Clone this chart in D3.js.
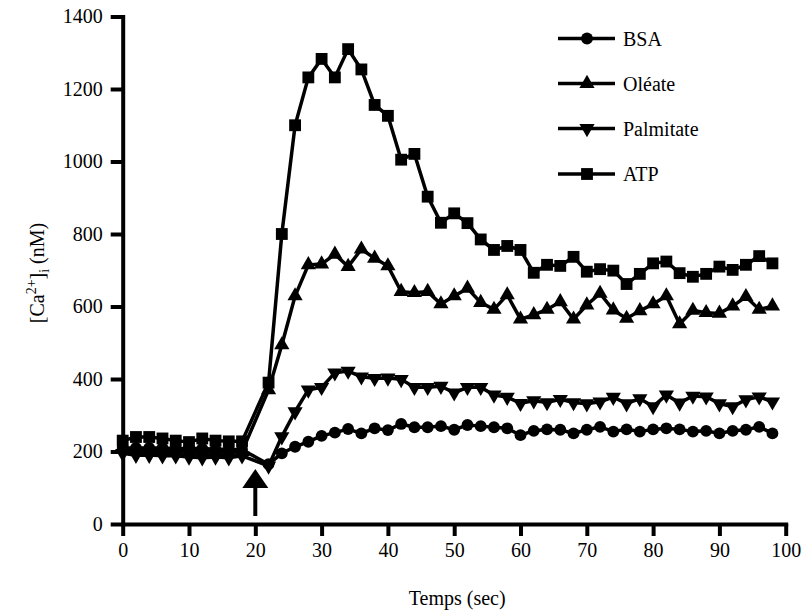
<!DOCTYPE html>
<html>
<head>
<meta charset="utf-8">
<script src="https://cdn.jsdelivr.net/npm/d3@7"></script>
<style>
  body { margin: 0; background: #fff; }
  svg text { font-family: "Liberation Serif", "Times New Roman", serif !important; fill: #000; }
</style>
</head>
<body>
<script>
// temps (sec) - pas de point a 20 s (injection)
var temps = [0, 2, 4, 6, 8, 10, 12, 14, 16, 18,
  22, 24, 26, 28, 30, 32, 34, 36, 38, 40, 42, 44, 46, 48, 50, 52, 54, 56, 58, 60,
  62, 64, 66, 68, 70, 72, 74, 76, 78, 80, 82, 84, 86, 88, 90, 92, 94, 96, 98];

var bsa = [210, 210, 210, 210, 208, 208, 208, 206, 206, 205,
  165, 195, 213, 227, 243, 252, 262, 250, 264, 259, 276, 267, 267, 270, 260, 273, 270, 267, 264, 245,
  257, 261, 260, 250, 260, 268, 255, 261, 255, 261, 264, 261, 255, 257, 250, 257, 260, 268, 250];

var oleate = [205, 205, 205, 203, 203, 200, 200, 200, 200, 200,
  370, 494, 629, 715, 717, 744, 710, 758, 733, 712, 641, 638, 641, 607, 629, 650, 611, 592, 632, 565,
  577, 592, 613, 565, 604, 636, 590, 567, 588, 607, 629, 552, 589, 583, 581, 601, 627, 592, 601];

var palmitate = [195, 190, 190, 188, 188, 185, 183, 185, 183, 188,
  160, 241, 310, 370, 377, 417, 422, 406, 402, 403, 399, 377, 377, 380, 362, 377, 377, 356, 350, 333,
  340, 335, 344, 335, 332, 337, 350, 332, 346, 324, 356, 334, 353, 351, 332, 324, 343, 351, 337];

var atp = [230, 240, 240, 236, 230, 226, 236, 230, 228, 228,
  390, 800, 1100, 1232, 1283, 1232, 1310, 1254, 1156, 1126, 1005, 1021, 903, 831, 857, 830, 785, 756, 767, 756,
  693, 715, 712, 737, 696, 703, 699, 662, 690, 719, 724, 692, 682, 690, 710, 701, 715, 739, 719];

var seriesNames = ["BSA", "Oléate", "Palmitate", "ATP"];
var seriesValues = [bsa, oleate, palmitate, atp];
var seriesSymbols = [d3.symbolCircle, d3.symbolTriangle, d3.symbolTriangle, d3.symbolSquare];

var xTicks = [0, 10, 20, 30, 40, 50, 60, 70, 80, 90, 100];
var yTicks = [0, 200, 400, 600, 800, 1000, 1200, 1400];

var width = 804, height = 614;
var margin = {top: 16.5, left: 122.7, right: 18.3, bottom: 90};
var serif = "'Liberation Serif', 'Times New Roman', serif";

var svg = d3.select("body").append("svg")
    .attr("width", width)
    .attr("height", height);

var x = d3.scaleLinear().domain([0, 100]).range([margin.left, width - margin.right]);
var y = d3.scaleLinear().domain([0, 1400]).range([height - margin.bottom, margin.top]);

// axes
var xAxis = svg.append("g")
    .attr("transform", "translate(0," + y(0) + ")")
    .call(d3.axisBottom(x).tickValues(xTicks).tickFormat(d3.format("d"))
        .tickSize(12).tickSizeOuter(0).tickPadding(7));

var yAxis = svg.append("g")
    .attr("transform", "translate(" + x(0) + ",0)")
    .call(d3.axisLeft(y).tickValues(yTicks).tickFormat(d3.format("d"))
        .tickSize(12).tickSizeOuter(0).tickPadding(8));

[xAxis, yAxis].forEach(function (g) {
    g.attr("font-family", serif).attr("font-size", 20);
    g.select(".domain").attr("stroke", "#000").attr("stroke-width", 4).attr("stroke-linecap", "square");
    g.selectAll(".tick line").attr("stroke", "#000").attr("stroke-width", 4);
    g.selectAll(".tick text").attr("fill", "#000");
});

// axis titles
svg.append("text")
    .attr("x", (x(0) + x(100)) / 2 + 3)
    .attr("y", 605)
    .attr("text-anchor", "middle")
    .attr("font-family", serif)
    .attr("font-size", 20)
    .text("Temps (sec)");

var yTitle = svg.append("text")
    .attr("transform", "translate(44,273) rotate(-90)")
    .attr("text-anchor", "middle")
    .attr("font-family", serif)
    .attr("font-size", 20);
yTitle.append("tspan").text("[Ca");
yTitle.append("tspan").attr("dy", -8).attr("font-size", 14).text("2+");
yTitle.append("tspan").attr("dy", 8).text("]");
yTitle.append("tspan").attr("dy", 5).attr("font-size", 14).text("i");
yTitle.append("tspan").attr("dy", -5).text(" (nM)");

// series
var line = d3.line()
    .x(function (d) { return x(d[0]); })
    .y(function (d) { return y(d[1]); });

function symbolTransform(i, px, py) {
    return "translate(" + px + "," + py + ")" + (i === 2 ? " rotate(180)" : "");
}

var symbolSizes = [110, 100, 100, 140];

seriesValues.forEach(function (vals, i) {
    var pts = temps.map(function (t, k) { return [t, vals[k]]; });
    var g = svg.append("g");
    g.append("path")
        .datum(pts)
        .attr("d", line)
        .attr("fill", "none")
        .attr("stroke", "#000")
        .attr("stroke-width", 3.5)
        .attr("stroke-linejoin", "miter");
    g.selectAll("path.pt")
        .data(pts)
        .enter().append("path")
        .attr("class", "pt")
        .attr("d", d3.symbol().type(seriesSymbols[i]).size(symbolSizes[i]))
        .attr("transform", function (d) { return symbolTransform(i, x(d[0]), y(d[1])); })
        .attr("fill", "#000");
});

// arrow marking the injection at 20 s
var ax = x(20);
svg.append("line")
    .attr("x1", ax).attr("x2", ax)
    .attr("y1", 516).attr("y2", 485)
    .attr("stroke", "#000").attr("stroke-width", 4);
svg.append("path")
    .attr("d", "M" + ax + ",469 L" + (ax - 13) + ",488 L" + (ax + 13) + ",488 Z")
    .attr("fill", "#000");

// legend
var legend = svg.append("g");
var legendY = [38.5, 83.5, 128.5, 174];
seriesNames.forEach(function (name, i) {
    var row = legend.append("g").attr("transform", "translate(0," + legendY[i] + ")");
    row.append("line")
        .attr("x1", 558).attr("x2", 615)
        .attr("stroke", "#000").attr("stroke-width", 3.5);
    row.append("path")
        .attr("d", d3.symbol().type(seriesSymbols[i]).size(symbolSizes[i]))
        .attr("transform", symbolTransform(i, 587, 0))
        .attr("fill", "#000");
    row.append("text")
        .attr("x", 623)
        .attr("y", 7)
        .attr("font-family", serif)
        .attr("font-size", 20)
        .text(name);
});
</script>
</body>
</html>
